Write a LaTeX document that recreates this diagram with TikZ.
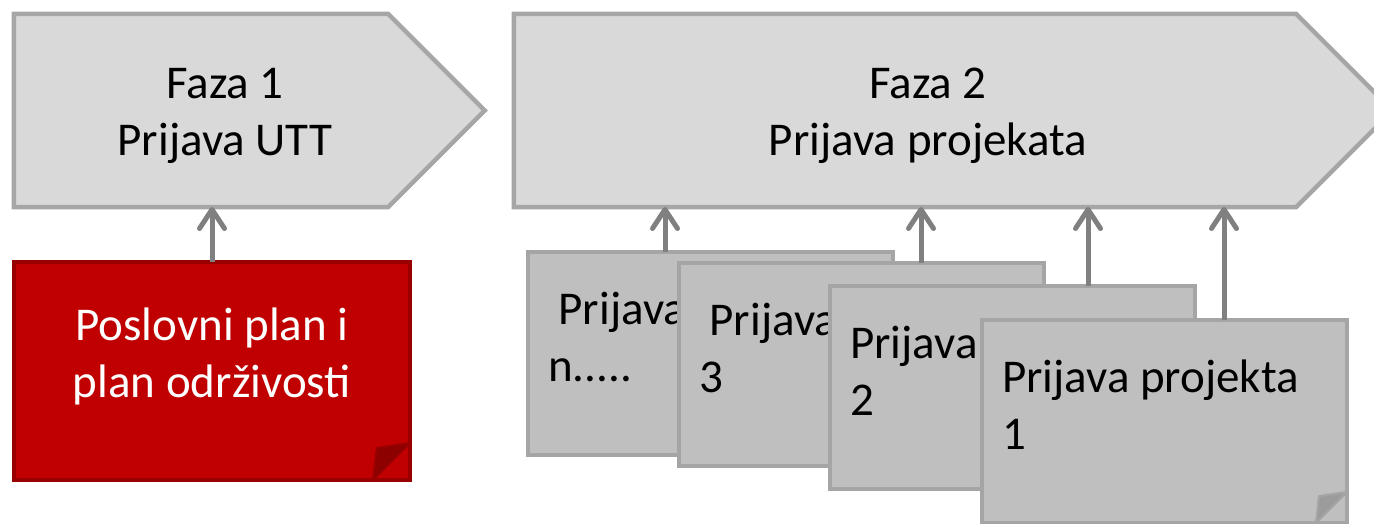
\documentclass[tikz,border=0pt]{standalone}
\usepackage{fontspec}
\setmainfont{Carlito}
\usetikzlibrary{arrows.meta,
                positioning,
                shapes.misc,
                shapes.symbols}

\definecolor{fazafill}{HTML}{D9D9D9}
\definecolor{fazaline}{HTML}{A6A6A6}
\definecolor{boxfill}{HTML}{BFBFBF}
\definecolor{boxline}{HTML}{A5A5A5}
\definecolor{flapgray}{HTML}{9C9C9C}
\definecolor{planfill}{HTML}{C00000}
\definecolor{planline}{HTML}{980000}
\definecolor{flapred}{HTML}{8C0000}
\definecolor{arrowgray}{HTML}{808080}

\begin{document}
\begin{tikzpicture}[x=1pt, y=-1pt,
  every node/.style={font=\fontsize{47}{57}\selectfont, inner sep=0pt, outer sep=0pt},
  faza/.style={signal, signal to=east, signal pointer angle=90,
               fill=fazafill, draw=fazaline, line width=4.5pt, minimum height=193pt},
  prijava/.style={chamfered rectangle, chamfered rectangle corners=south east,
                  chamfered rectangle xsep=31pt, chamfered rectangle ysep=31pt,
                  fill=boxfill, draw=boxline, line width=4pt,
                  minimum width=365pt, minimum height=203pt, anchor=north west},
  prijavatext/.style={align=left, anchor=north west},
  conn/.style={draw=arrowgray, line width=5pt,
               -{Straight Barb[length=19pt, width=25pt, round]}}]
\useasboundingbox (0,0) rectangle (1374,524);

% faze
\node[faza, minimum width=471pt] (faza1) at (201,110.5) {};
\node[faza, minimum width=879pt] (faza2) at (905,110.5) {};
\node[align=center] (f1text) at ([xshift=24pt, yshift=-5pt]faza1.center) {Faza 1\\Prijava UTT};
\node[align=center] (f2text) at ([xshift=23pt, yshift=-5pt]faza2.center) {Faza 2\\Prijava projekata};

% poslovni plan
\node[chamfered rectangle, chamfered rectangle corners=south east,
      chamfered rectangle xsep=37pt, chamfered rectangle ysep=37pt,
      fill=planfill, draw=planline, line width=4pt,
      minimum width=396pt, minimum height=218pt] (plan) at (212,371) {};
\coordinate (plancorner) at (plan.south -| plan.east);
\filldraw[fill=flapred, draw=planline, line width=2pt, line join=round]
  ([yshift=37pt]plancorner) -- ([xshift=-33pt, yshift=32pt]plancorner)
  -- ([xshift=-37pt]plancorner) -- cycle;
\node[align=center, white] (plantext) at ([yshift=15pt]plan.center) {Poslovni plan i\\plan održivosti};
\draw[conn] (plan.north) -- (faza1.south -| plan.north);

% prijave projekata
\node[prijava] (pn) at (528,252) {};
\node[prijavatext] (tn) at ([xshift=20pt, yshift=-40pt]pn.north west) {\ Prijava\\n.....};
\node[prijava] (p3) at (679,263) {};
\node[prijavatext] (t3) at ([xshift=20pt, yshift=-40pt]p3.north west) {\ Prijava\\3};
\node[prijava] (p2) at (830,286) {};
\node[prijavatext] (t2) at ([xshift=20pt, yshift=-40pt]p2.north west) {Prijava\\2};
\node[prijava] (p1) at (982,320) {};
\node[prijavatext] (t1) at ([xshift=20pt, yshift=-40pt]p1.north west) {Prijava projekta\\1};
\coordinate (p1corner) at (p1.south -| p1.east);
\filldraw[fill=flapgray, draw=boxline, line width=2pt, line join=round]
  ([yshift=31pt]p1corner) -- ([xshift=-28pt, yshift=27pt]p1corner)
  -- ([xshift=-31pt]p1corner) -- cycle;

\foreach \b/\x in {pn/665, p3/921, p2/1088, p1/1224}
  \draw[conn] (\b.north -| \x,0) -- (faza2.south -| \x,0);
\end{tikzpicture}
\end{document}
